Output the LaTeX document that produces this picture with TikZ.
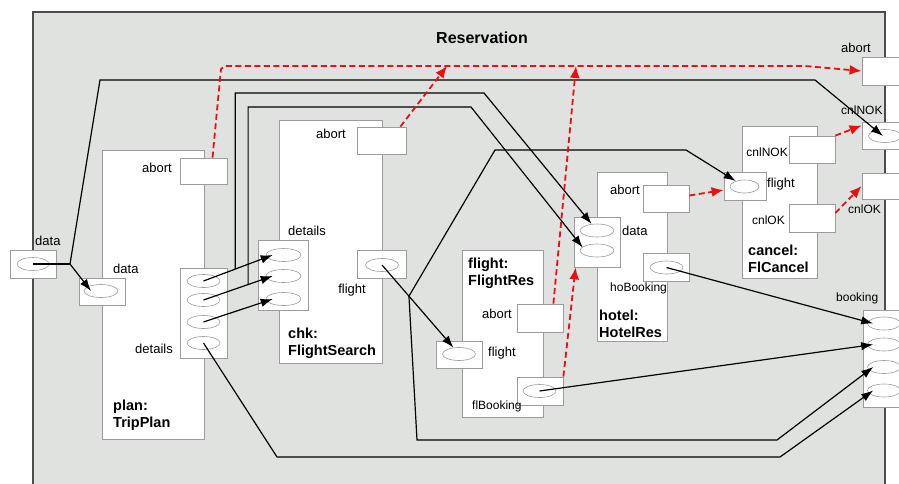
\documentclass[tikz,border=0pt]{standalone}
\usepackage{fontspec}
\setmainfont{Liberation Sans}
\usetikzlibrary{shapes.geometric,arrows.meta,calc}
\definecolor{frameback}{HTML}{E0E2E0}
\definecolor{boxline}{HTML}{9C9C9C}
\definecolor{abortred}{HTML}{E81010}
\begin{document}
\begin{tikzpicture}[x=1pt, y=-1pt,
    comp/.style={draw=boxline, fill=white, inner sep=0pt, line width=0.8pt},
    port/.style={draw=boxline, fill=white, inner sep=0pt, line width=0.8pt, minimum width=46pt, minimum height=27pt},
    plug/.style={ellipse, draw=boxline, inner sep=0pt, minimum width=33pt, minimum height=13pt, line width=0.6pt},
    lbl/.style={inner sep=0pt, font=\fontsize{13}{15}\selectfont},
    slbl/.style={inner sep=0pt, font=\fontsize{12}{14}\selectfont},
    ctitle/.style={inner sep=0pt, align=left, anchor=north west, font=\fontsize{14.5}{17.5}\selectfont\bfseries},
    flow/.style={-{Latex[length=12pt,width=8.5pt]}, line width=1.2pt},
    abortflow/.style={abortred, line width=1.8pt, dash pattern=on 6pt off 3.5pt, -{Latex[length=12pt,width=10pt]}}]
    \useasboundingbox (0,0) rectangle (899,483);
    \clip (0,0) rectangle (899,483);
    \draw[draw=black!70, fill=frameback, line width=1.2pt] (33,12) rectangle (885,495);
    \node[font=\fontsize{16}{18}\selectfont\bfseries] (resTitle) at (482,38) {Reservation};

    % boundary ports
    \node[port, minimum height=28pt] (resData) at (33,264) {};
    \node[plug, minimum width=32pt] (rd) at (33,264) {};
    \node[port, minimum height=28pt] (resAbort) at (885,71) {};
    \node[port] (resNok) at (885,135.5) {};
    \node[plug] (rn) at (885,136) {};
    \node[port, minimum height=26pt] (resOk) at (885,186) {};
    \node[port, minimum height=97pt] (resBook) at (886,358.5) {};
    \node[plug] (bk1) at (884,323.5) {};
    \node[plug] (bk2) at (884,344.5) {};
    \node[plug] (bk3) at (884,367) {};
    \node[plug] (bk4) at (884,390.5) {};

    % plan: TripPlan
    \node[comp, minimum width=102pt, minimum height=289pt] (planBox) at (153,294.5) {};
    \node[port, minimum width=47pt, minimum height=26pt] (planAbort) at (203.5,171) {};
    \node[port] (planData) at (102,291.5) {};
    \node[plug, minimum width=34pt] (pd) at (101,291) {};
    \node[port, minimum width=47pt, minimum height=90pt] (planDet) at (203.5,313) {};
    \node[plug] (pt1) at (203.5,281) {};
    \node[plug] (pt2) at (203.5,300) {};
    \node[plug] (pt3) at (203.5,322) {};
    \node[plug] (pt4) at (203.5,343) {};

    % chk: FlightSearch
    \node[comp, minimum width=103pt, minimum height=243pt] (chkBox) at (330.5,241.5) {};
    \node[port, minimum width=49pt] (chkAbort) at (381.5,140.5) {};
    \node[port, minimum width=50pt, minimum height=70pt] (chkDet) at (283,275) {};
    \node[plug, minimum width=35pt] (cd1) at (283.5,255) {};
    \node[plug, minimum width=35pt] (cd2) at (283.5,276) {};
    \node[plug, minimum width=35pt] (cd3) at (283.5,299) {};
    \node[port, minimum width=49pt, minimum height=28pt] (chkFlight) at (381.5,264) {};
    \node[plug] (cf) at (382,265) {};

    % flight: FlightRes
    \node[comp, minimum width=81pt, minimum height=167pt] (flBox) at (502.5,333.5) {};
    \node[port, minimum height=28pt] (flAbort) at (540,318) {};
    \node[port] (flFlight) at (459,354.5) {};
    \node[plug] (ff) at (459,354) {};
    \node[port, minimum height=28pt] (flBook) at (540,391) {};
    \node[plug] (fb) at (539.5,391) {};

    % hotel: HotelRes
    \node[comp, minimum width=70pt, minimum height=169pt] (hoBox) at (632,256.5) {};
    \node[port] (hoAbort) at (666,198.5) {};
    \node[port, minimum height=50pt] (hoData) at (597,242) {};
    \node[plug, minimum width=34pt] (hd1) at (597,230.5) {};
    \node[plug, minimum width=34pt] (hd2) at (597,250.5) {};
    \node[port, minimum height=28pt] (hoBook) at (666,267) {};
    \node[plug] (hb) at (666.5,267.5) {};

    % cancel: FlCancel
    \node[comp, minimum width=75pt, minimum height=152pt] (cxBox) at (779.5,202) {};
    \node[port] (cxNok) at (812,149.5) {};
    \node[port, minimum width=42pt, minimum height=28pt] (cxFlight) at (745,186) {};
    \node[plug, minimum width=29pt] (xf) at (744.5,186.5) {};
    \node[port, minimum height=28pt] (cxOk) at (812,218) {};

    % black flows
    \coordinate (j0) at (70,264);
    \coordinate (j1) at ($(pt1.center)!0.46!([xshift=7pt]cd1.west)$);
    \coordinate (j2) at ($(pt2.center)!0.645!([xshift=7pt]cd2.west)$);
    \coordinate (j3) at ($(cf.center)!0.35!(ff.center)$);
    \draw[line width=1.2pt] (rd.center) -- (j0);
    \draw[flow] (j0) -- ([xshift=-10pt]pd.center);
    \draw[flow] (j0) -- (100,80) -- (815,80) -- ([xshift=-2pt]rn.center);
    \draw[flow] (pt1.center) -- ([xshift=7pt]cd1.west);
    \draw[flow] (pt2.center) -- ([xshift=7pt]cd2.west);
    \draw[flow] (pt3.center) -- ([xshift=7pt]cd3.west);
    \draw[flow] (j1) |- (484,93) -- (hd1);
    \draw[flow] (j2) |- (471,107) -- ([shift={(3pt,3pt)}]hd2.west);
    \draw[flow] (pt4.center) -- (277,457) -- (780,457) -- ([xshift=6pt]bk4.west);
    \draw[flow] (cf.center) -- (ff);
    \draw[flow] (j3) -- (495,150) -- (686,150) -- (xf);
    \draw[flow] (j3) -- (417,440) -- (777,440) -- ([xshift=6pt]bk3.west);
    \draw[flow] (fb.center) -- ([xshift=6pt]bk2.west);
    \draw[flow] (hb.center) -- ([xshift=6pt]bk1.west);

    % abort flows
    \coordinate (m1) at (447,66);
    \coordinate (m2) at (576,66);
    \draw[abortflow] ([xshift=9pt]planAbort.north) -- (221,69) -- (225,66) -- (805,66) -- (resAbort.west);
    \draw[abortflow] ([xshift=-6pt]chkAbort.north east) -- (m1);
    \draw[abortflow] ([xshift=-10pt]flAbort.north east) -- (m2);
    \draw[abortflow] (flBook.north east) -- ([xshift=2pt]hoData.south west);
    \draw[abortflow] ([yshift=3pt]hoAbort.east) -- ([yshift=-4pt]cxFlight.west);
    \draw[abortflow] (cxNok.north east) -- ([yshift=10pt]resNok.west);
    \draw[abortflow] ([yshift=5pt]cxOk.east) -- (resOk.west);

    % labels
    \node[lbl, anchor=west] (lResData) at (35,241) {data};
    \node[lbl, anchor=west] (lResAbort) at (841,48) {abort};
    \node[slbl, anchor=west] (lResNok) at (841,110) {cnlNOK};
    \node[slbl, anchor=west] (lResOk) at (848,209) {cnlOK};
    \node[slbl, anchor=west] (lResBook) at (836,298) {booking};
    \node[lbl, anchor=east] (lPlanAbort) at (172,168) {abort};
    \node[lbl, anchor=west] (lPlanData) at (113,269) {data};
    \node[lbl, anchor=east] (lPlanDet) at (173,349) {details};
    \node[ctitle] (tPlan) at (113,399.5) {plan:\\TripPlan};
    \node[lbl, anchor=east] (lChkAbort) at (346,134) {abort};
    \node[lbl, anchor=west] (lChkDet) at (288,231) {details};
    \node[lbl, anchor=east] (lChkFlight) at (366,290) {flight};
    \node[ctitle] (tChk) at (288,327.5) {chk:\\FlightSearch};
    \node[ctitle] (tFl) at (468,257.5) {flight:\\FlightRes};
    \node[lbl, anchor=east] (lFlAbort) at (512,314) {abort};
    \node[lbl, anchor=west] (lFlFlight) at (488,353) {flight};
    \node[slbl, anchor=west] (lFlBook) at (472,406) {flBooking};
    \node[lbl, anchor=east] (lHoAbort) at (640,190) {abort};
    \node[lbl, anchor=west] (lHoData) at (622,231) {data};
    \node[slbl, anchor=west] (lHoBook) at (610,288) {hoBooking};
    \node[ctitle] (tHo) at (599,309.5) {hotel:\\HotelRes};
    \node[slbl, anchor=east] (lCxNok) at (788,152) {cnlNOK};
    \node[lbl, anchor=west] (lCxFlight) at (767,184) {flight};
    \node[slbl, anchor=east] (lCxOk) at (785,220) {cnlOK};
    \node[ctitle] (tCx) at (748,244.5) {cancel:\\FlCancel};
\end{tikzpicture}
\end{document}
